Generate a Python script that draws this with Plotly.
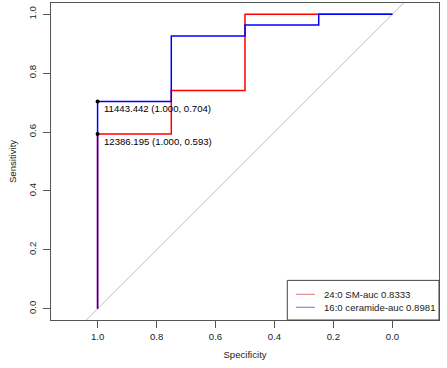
import plotly.graph_objects as go

# ROC data
spec_sm = [1.0, 1.0, 0.75, 0.75, 0.5, 0.5, 0.25, 0.0]
sens_sm = [0.0, 0.593, 0.593, 0.741, 0.741, 1.0, 1.0, 1.0]
spec_cer = [1.0, 1.0, 0.75, 0.75, 0.5, 0.5, 0.25, 0.25, 0.0]
sens_cer = [0.0, 0.704, 0.704, 0.926, 0.926, 0.963, 0.963, 1.0, 1.0]
name_sm = "24:0 SM-auc 0.8333"
name_cer = "16:0 ceramide-auc 0.8981"

best_spec = [1.0, 1.0]
best_sens = [0.704, 0.593]
best_thr = ["11443.442", "12386.195"]

diag_spec = [2.0, -1.0]
diag_sens = [1 - s for s in diag_spec]

xticks = [1.0, 0.8, 0.6, 0.4, 0.2, 0.0]
yticks = [0.0, 0.2, 0.4, 0.6, 0.8, 1.0]

font = "Liberation Sans, Arial, sans-serif"
fs = 9.6

fig = go.Figure()
fig.add_trace(go.Scatter(x=diag_spec, y=diag_sens, mode="lines",
                         line=dict(color="#bdbdbd", width=1), showlegend=False, hoverinfo="skip"))
fig.add_trace(go.Scatter(x=spec_sm, y=sens_sm, mode="lines", name=name_sm,
                         line=dict(color="#ff0000", width=1.5), showlegend=False))
fig.add_trace(go.Scatter(x=spec_cer, y=sens_cer, mode="lines", name=name_cer,
                         line=dict(color="#0000ff", width=1.5), showlegend=False))
fig.add_trace(go.Scatter(x=best_spec, y=best_sens, mode="markers",
                         marker=dict(color="black", size=4), showlegend=False))

for sp, se, th in zip(best_spec, best_sens, best_thr):
    fig.add_annotation(x=sp, y=se, text=f"{th} ({sp:.3f}, {se:.3f})", showarrow=False,
                       xanchor="left", yanchor="top", xshift=4, yshift=0,
                       font=dict(family=font, size=fs, color="black"))

# legend box (R-style, bottom right, in paper coordinates)
fig.add_shape(type="rect", xref="paper", yref="paper", x0=0.609, x1=1.0, y0=0.0, y1=0.125,
              line=dict(color="#444444", width=1), fillcolor="white", layer="above")
leg_names = [name_sm, name_cer]
leg_colors = ["#e88a94", "#8a86d6"]
leg_rows = [0.081, 0.040]
for nm, col, yy in zip(leg_names, leg_colors, leg_rows):
    fig.add_shape(type="line", xref="paper", yref="paper", x0=0.631, x1=0.680, y0=yy, y1=yy,
                  line=dict(color=col, width=1.2), layer="above")
    fig.add_annotation(xref="paper", yref="paper", x=0.698, y=yy, text=nm, showarrow=False,
                       xanchor="left", yanchor="middle",
                       font=dict(family=font, size=fs, color="#222222"))

axis_common = dict(showline=True, mirror=True, linecolor="#555555", linewidth=1,
                   ticks="outside", ticklen=7, tickcolor="#555555", showgrid=False,
                   zeroline=False, tickfont=dict(family=font, size=fs, color="#222222"),
                   tickformat=".1f", automargin=False)

fig.update_layout(
    width=447, height=368,
    margin=dict(l=51, r=8, t=3, b=48),
    paper_bgcolor="white", plot_bgcolor="white",
    xaxis=dict(range=[1.158, -0.158], tickvals=xticks,
               title=dict(text="Specificity", font=dict(family=font, size=fs, color="#222222"), standoff=10),
               **axis_common),
    yaxis=dict(range=[-0.038, 1.038], tickvals=yticks, tickangle=-90, ticklabelstandoff=3,
               title=dict(text="Sensitivity", font=dict(family=font, size=fs, color="#222222"), standoff=8),
               **axis_common),
    showlegend=False,
)

fig.write_html("out.html", post_script="document.body.style.margin='0';",
               config={"displayModeBar": False})
